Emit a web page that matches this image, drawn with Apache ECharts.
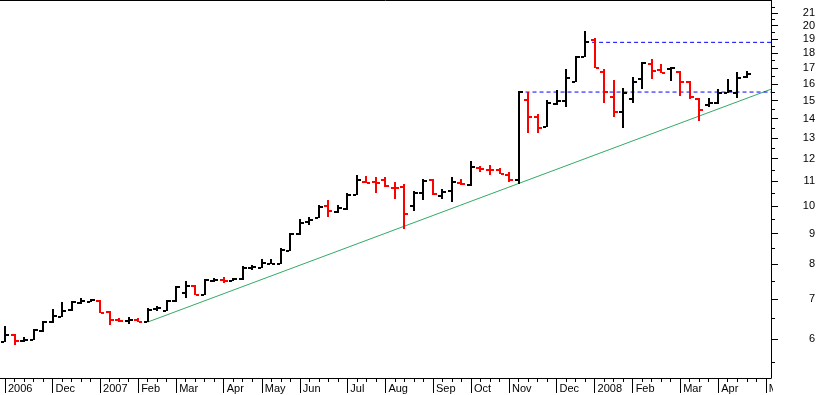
<!DOCTYPE html>
<html><head><meta charset="utf-8">
<script src="https://cdn.jsdelivr.net/npm/echarts@6/dist/echarts.min.js"></script>
<style>html,body{margin:0;padding:0;background:#fff}#c{width:817px;height:395px}</style>
</head><body><div id="c"></div>
<script>
// Weekly OHLC bars, week index 0 = first week (Nov 2006)
const open = [5.94,6.09,5.96,5.99,6.19,6.41,6.54,6.71,6.91,6.93,6.95,6.66,6.45,6.44,6.47,6.41,6.73,6.69,6.94,7.18,
  7.37,7.10,7.50,7.52,7.50,7.55,7.88,7.90,8.00,8.00,8.43,8.98,9.41,9.55,10.02,9.77,9.89,10.44,10.97,10.97,
  11.08,10.74,10.76,10.00,10.51,11.06,10.40,10.60,10.95,10.84,11.60,11.51,11.49,11.26,11.08,15.02,14.10,13.57,14.81,14.98,
  16.14,17.73,18.93,16.74,15.21,14.36,15.07,16.30,17.27,16.88,16.95,16.71,16.08,15.08,14.75,14.88,15.47,15.44,16.45];
const high = [6.29,6.09,6.04,6.22,6.41,6.72,6.89,6.93,7.00,6.98,6.95,6.66,6.49,6.52,6.49,6.74,6.80,6.96,7.33,7.48,
  7.37,7.53,7.56,7.59,7.56,7.91,7.96,8.14,8.12,8.49,9.00,9.47,9.55,10.01,10.21,9.99,10.47,11.23,11.20,11.15,
  11.15,10.92,10.85,10.55,11.06,11.08,10.65,11.13,11.08,11.85,11.63,11.69,11.54,11.37,15.50,15.42,14.20,14.96,15.56,16.84,
  17.71,19.54,18.98,16.85,16.17,15.67,16.34,17.31,17.53,17.20,17.02,16.76,16.13,15.08,15.11,15.63,16.23,16.67,16.73];
const low = [5.94,5.86,5.93,5.99,6.18,6.38,6.53,6.70,6.86,6.93,6.63,6.34,6.41,6.37,6.41,6.41,6.68,6.69,6.93,7.02,
  7.10,7.10,7.47,7.45,7.50,7.53,7.83,7.89,8.00,8.00,8.43,8.96,9.30,9.55,9.61,9.73,9.86,10.44,10.92,10.53,
  10.78,10.28,9.15,9.81,10.25,10.44,10.27,10.15,10.85,10.82,11.39,11.28,11.31,10.99,10.89,13.23,13.23,13.54,14.75,14.62,
  16.13,17.71,16.98,14.88,14.06,13.52,14.89,15.67,16.31,16.66,16.19,15.24,15.08,13.89,14.66,14.81,15.43,15.17,16.39];
const close = [6.10,5.97,5.99,6.22,6.41,6.55,6.70,6.92,6.94,6.97,6.65,6.45,6.44,6.46,6.42,6.72,6.76,6.95,7.33,7.35,
  7.10,7.52,7.52,7.50,7.55,7.89,7.91,8.04,8.01,8.45,8.98,9.37,9.50,9.98,9.82,9.93,10.46,11.06,10.95,10.95,
  10.81,10.71,9.70,10.53,11.03,10.47,10.55,10.98,10.90,11.61,11.52,11.49,11.32,11.04,15.50,14.09,13.50,14.89,14.98,16.36,
  17.70,18.76,17.00,15.50,14.36,15.44,16.13,17.31,16.82,16.70,16.98,16.11,15.21,14.46,14.85,15.44,15.59,16.36,16.59];

// x axis: month labels at week indices
const monthIdx = [0,5,10,14,18,23,27,31,36,40,45,49,53,58,62,66,71,75,80];
const monthLbl = ['2006','Dec','2007','Feb','Mar','Apr','May','Jun','Jul','Aug','Sep','Oct','Nov','Dec','2008','Feb','Mar','Apr','May'];
const weekTicks = [];
for (let i = 0; i <= 80; i++) weekTicks.push(i);

// y axis (log) tick labels
const yTicks = [6,7,8,9,10,11,12,13,14,15,16,17,18,19,20,21];
const yMinorTicks = [5.5,6.5,7.5,8.5,9.5,10.5,11.5,12.5,13.5,14.5,15.5,16.5,17.5,18.5,19.5,20.5,21.5];

// trend line and horizontal levels
const trendX = [15, 80.55];
const trendY = [6.41, 15.67];
const levelStart = [54, 61];
const levelValue = [15.5, 18.76];

const X_MIN = -0.526, X_MAX = 80.55, Y_MIN = 5.172, Y_MAX = 22.07;

const ohlc = open.map((o, i) => [i, o, high[i], low[i], close[i]]);

function renderItem(params, api) {
  const i = api.value(0);
  const o = api.coord([i, api.value(1)]);
  const h = api.coord([i, api.value(2)]);
  const l = api.coord([i, api.value(3)]);
  const c = api.coord([i, api.value(4)]);
  const x = Math.round(h[0]);
  const col = api.value(4) < api.value(1) ? '#ff0000' : '#000000';
  const yh = Math.round(h[1]), yl = Math.round(l[1]);
  const yo = Math.round(o[1]), yc = Math.round(c[1]);
  return {type: 'group', children: [
    {type: 'rect', shape: {x: x - 1, y: yh - 1, width: 2, height: Math.max(2, yl - yh + 1)}, style: {fill: col}},
    {type: 'rect', shape: {x: x - 4, y: yo - 1, width: 3, height: 2}, style: {fill: col}},
    {type: 'rect', shape: {x: x + 1, y: yc - 1, width: 3, height: 2}, style: {fill: col}}
  ]};
}

const FONT = 'Liberation Sans, Arial, sans-serif';
const chart = echarts.init(document.getElementById('c'), null, {renderer: 'canvas'});
chart.setOption({
  animation: false,
  backgroundColor: '#ffffff',
  grid: {left: 0, right: 46, top: 0, bottom: 17, containLabel: false, outerBoundsMode: 'none'},
  xAxis: [
    {type: 'value', min: X_MIN, max: X_MAX, position: 'bottom',
     axisLine: {show: true, onZero: false, lineStyle: {color: '#000', width: 1}},
     axisTick: {show: true, customValues: weekTicks, length: 4, lineStyle: {color: '#000'}},
     axisLabel: {show: false}, splitLine: {show: false}},
    {type: 'value', min: X_MIN, max: X_MAX, position: 'bottom',
     axisLine: {show: false, onZero: false},
     axisTick: {show: true, customValues: monthIdx, length: 15, lineStyle: {color: '#000'}},
     axisLabel: {show: true, customValues: monthIdx, hideOverlap: false,
       formatter: v => monthLbl[monthIdx.indexOf(Math.round(v))],
       align: 'left', padding: [0, 0, 0, 3], margin: 5, fontSize: 11, color: '#000', fontFamily: FONT},
     splitLine: {show: false}},
    {type: 'value', min: X_MIN, max: X_MAX, position: 'top',
     axisLine: {show: true, onZero: false, lineStyle: {color: '#000', width: 1}},
     axisTick: {show: false}, axisLabel: {show: false}, splitLine: {show: false}}
  ],
  yAxis: [
    {type: 'log', min: Y_MIN, max: Y_MAX, position: 'right',
     axisLine: {show: true, onZero: false, lineStyle: {color: '#000', width: 1}},
     axisTick: {show: false}, axisLabel: {show: false}, splitLine: {show: false}, minorTick: {show: false}},
    {type: 'value', min: Math.log(Y_MIN), max: Math.log(Y_MAX), position: 'right',
     axisLine: {show: false, onZero: false},
     axisTick: {show: true, customValues: yTicks.map(Math.log), length: 7, lineStyle: {color: '#000'}},
     axisLabel: {show: true, customValues: yTicks.map(Math.log), hideOverlap: false,
       formatter: v => String(Math.round(Math.exp(v))),
       align: 'right', margin: 44, fontSize: 11, color: '#000', fontFamily: FONT},
     splitLine: {show: false}},
    {type: 'value', min: Math.log(Y_MIN), max: Math.log(Y_MAX), position: 'right',
     axisLine: {show: false, onZero: false},
     axisTick: {show: true, customValues: yMinorTicks.map(Math.log), length: 4, lineStyle: {color: '#000'}},
     axisLabel: {show: false}, splitLine: {show: false}}
  ],
  series: [
    {type: 'line', xAxisIndex: 0, yAxisIndex: 0, data: trendX.map((x, k) => [x, trendY[k]]),
     symbol: 'none', silent: true, lineStyle: {color: '#33aa66', width: 1}, z: 1},
    {type: 'line', xAxisIndex: 0, yAxisIndex: 0, data: [[levelStart[0], levelValue[0]], [X_MAX, levelValue[0]]],
     symbol: 'none', silent: true, lineStyle: {color: '#0000ff', width: 1, type: [4, 3]}, z: 1},
    {type: 'line', xAxisIndex: 0, yAxisIndex: 0, data: [[levelStart[1], levelValue[1]], [X_MAX, levelValue[1]]],
     symbol: 'none', silent: true, lineStyle: {color: '#0000ff', width: 1, type: [4, 3]}, z: 1},
    {type: 'custom', xAxisIndex: 0, yAxisIndex: 0, renderItem: renderItem, data: ohlc,
     encode: {x: 0, y: [1, 2, 3, 4]}, z: 2}
  ],
  graphic: [
    {type: 'rect', left: 773, top: 380, shape: {width: 44, height: 15}, style: {fill: '#fff'}, z: 100}
  ]
});
</script></body></html>
